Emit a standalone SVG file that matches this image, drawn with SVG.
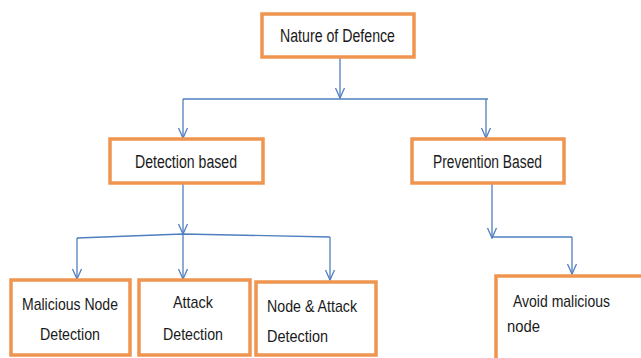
<svg xmlns="http://www.w3.org/2000/svg" width="641" height="358" viewBox="0 0 641 358">
  <style>
    .box { fill: #ffffff; stroke: #F0954F; stroke-width: 3.5; }
    .lbl { font-family: "Liberation Sans", "DejaVu Sans", sans-serif; fill: #1a1a1a; }
    .big { font-size: 18px; }
    .sm { font-size: 17px; }
    .wire { fill: none; stroke: #4F7FBF; stroke-width: 1.3; }
  </style>
  <defs>
    <marker id="vee" viewBox="-11 -6 12 12" markerWidth="12" markerHeight="12" refX="0" refY="0" orient="auto" markerUnits="userSpaceOnUse">
      <path d="M-10,-4.5 L0,0 L-10,4.5" fill="none" stroke="#4F7FBF" stroke-width="1.3"/>
    </marker>
  </defs>

  <rect width="641" height="358" fill="#ffffff"/>

  <g id="connectors">
    <line class="wire" x1="340" y1="57" x2="340" y2="98" marker-end="url(#vee)"/>
    <line class="wire" x1="183" y1="99" x2="488" y2="99"/>
    <line class="wire" x1="183" y1="99" x2="183" y2="138" marker-end="url(#vee)"/>
    <line class="wire" x1="486" y1="99" x2="486" y2="138" marker-end="url(#vee)"/>

    <line class="wire" x1="183" y1="183" x2="183" y2="234" marker-end="url(#vee)"/>
    <polyline class="wire" points="77,238 183,234 330,237"/>
    <line class="wire" x1="77" y1="238" x2="77" y2="279" marker-end="url(#vee)"/>
    <line class="wire" x1="183" y1="234" x2="183" y2="279" marker-end="url(#vee)"/>
    <line class="wire" x1="330" y1="237" x2="330" y2="280" marker-end="url(#vee)"/>

    <line class="wire" x1="492" y1="183" x2="492" y2="238" marker-end="url(#vee)"/>
    <line class="wire" x1="492" y1="237" x2="572" y2="237"/>
    <line class="wire" x1="572" y1="237" x2="572" y2="274" marker-end="url(#vee)"/>
  </g>

  <g id="nature-of-defence">
    <rect class="box" x="262" y="14" width="152" height="43"/>
    <text class="lbl big" x="280" y="42" textLength="115" lengthAdjust="spacingAndGlyphs">Nature of Defence</text>
  </g>

  <g id="detection-based">
    <rect class="box" x="110" y="139" width="153" height="44"/>
    <text class="lbl big" x="135" y="168" textLength="102" lengthAdjust="spacingAndGlyphs">Detection based</text>
  </g>

  <g id="prevention-based">
    <rect class="box" x="412" y="139" width="152" height="44"/>
    <text class="lbl big" x="433" y="168" textLength="109" lengthAdjust="spacingAndGlyphs">Prevention Based</text>
  </g>

  <g id="malicious-node-detection">
    <rect class="box" x="11" y="280" width="119" height="75"/>
    <text class="lbl sm" x="22" y="310" textLength="96" lengthAdjust="spacingAndGlyphs">Malicious Node</text>
    <text class="lbl sm" x="40" y="340" textLength="60" lengthAdjust="spacingAndGlyphs">Detection</text>
  </g>

  <g id="attack-detection">
    <rect class="box" x="139" y="280" width="111" height="75"/>
    <text class="lbl sm" x="173" y="308" textLength="40" lengthAdjust="spacingAndGlyphs">Attack</text>
    <text class="lbl sm" x="163" y="340" textLength="60" lengthAdjust="spacingAndGlyphs">Detection</text>
  </g>

  <g id="node-attack-detection">
    <rect class="box" x="256" y="282" width="120" height="73"/>
    <text class="lbl sm" x="267" y="312" textLength="90" lengthAdjust="spacingAndGlyphs">Node &amp; Attack</text>
    <text class="lbl sm" x="267" y="342" textLength="61" lengthAdjust="spacingAndGlyphs">Detection</text>
  </g>

  <g id="avoid-malicious-node">
    <rect class="box" x="496" y="276" width="160" height="100"/>
    <text class="lbl sm" x="513" y="307" textLength="97" lengthAdjust="spacingAndGlyphs">Avoid malicious</text>
    <text class="lbl sm" x="507" y="332" textLength="33" lengthAdjust="spacingAndGlyphs">node</text>
  </g>
</svg>
